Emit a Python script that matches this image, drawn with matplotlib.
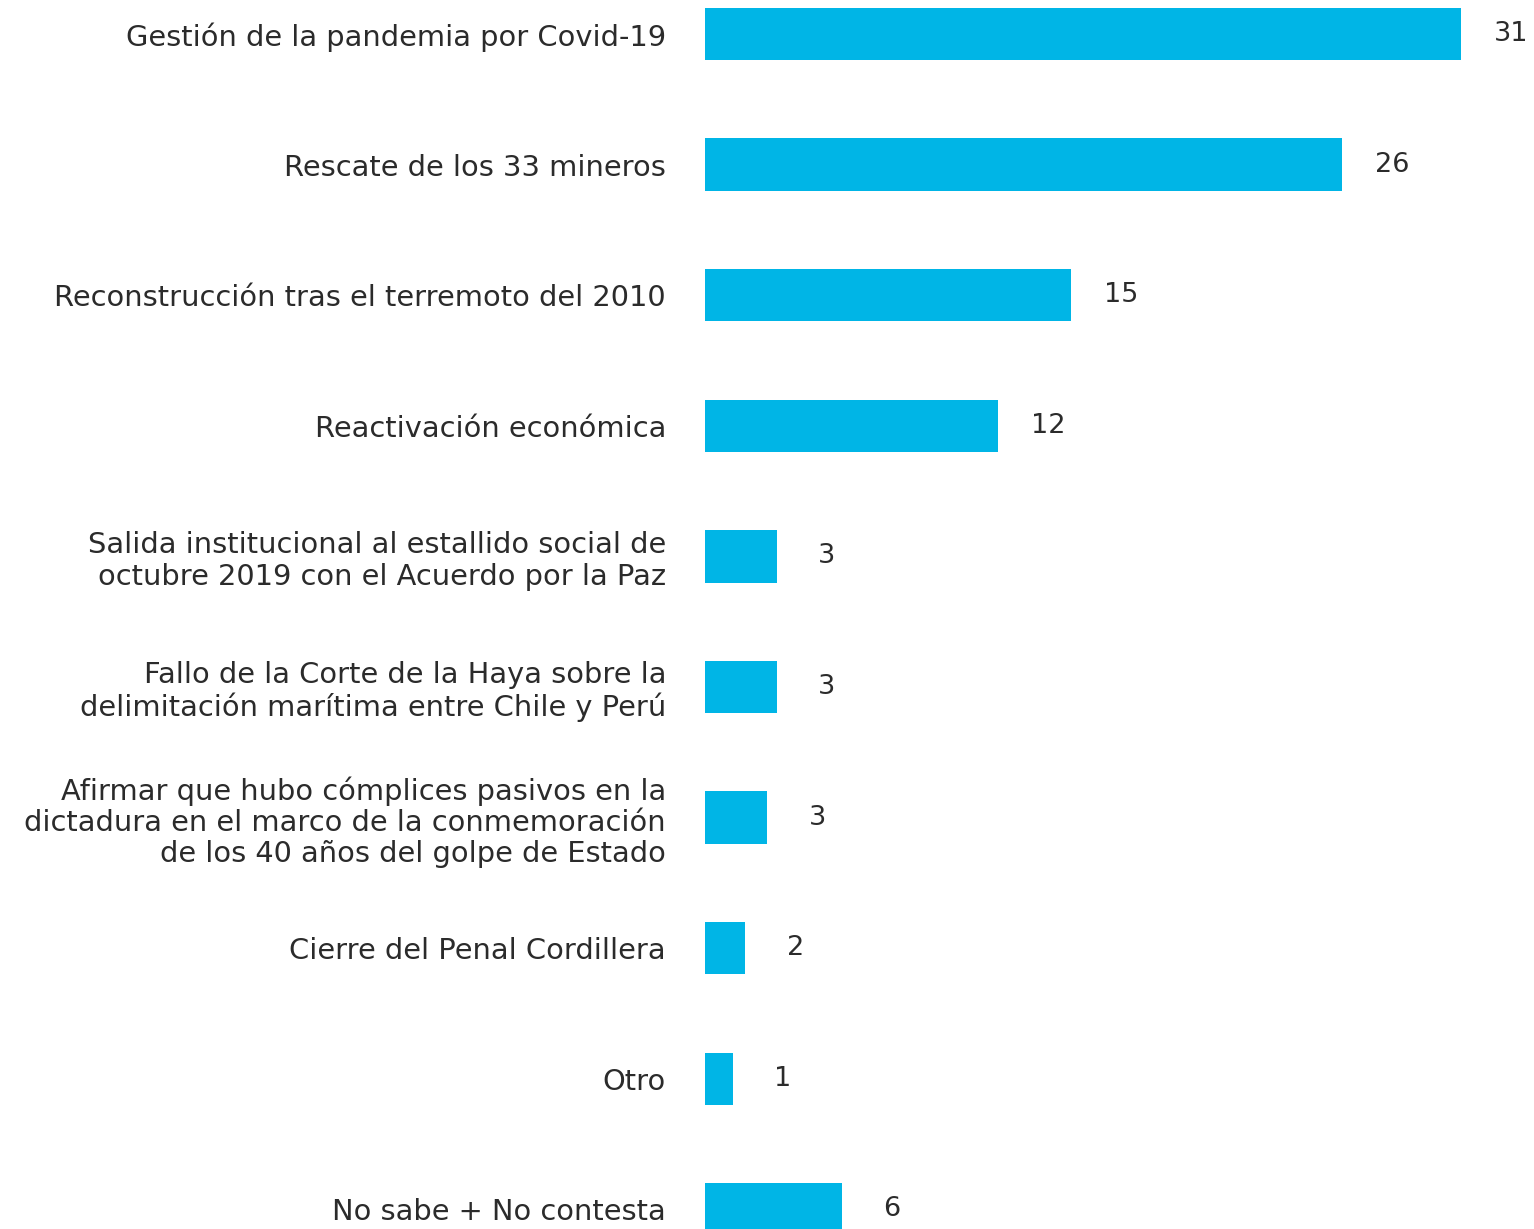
import matplotlib
matplotlib.use("Agg")
import matplotlib.pyplot as plt

categories = [
    "Gestión de la pandemia por Covid-19",
    "Rescate de los 33 mineros",
    "Reconstrucción tras el terremoto del 2010",
    "Reactivación económica",
    "Salida institucional al estallido social de\noctubre 2019 con el Acuerdo por la Paz",
    "Fallo de la Corte de la Haya sobre la\ndelimitación marítima entre Chile y Perú",
    "Afirmar que hubo cómplices pasivos en la\ndictadura en el marco de la conmemoración\nde los 40 años del golpe de Estado",
    "Cierre del Penal Cordillera",
    "Otro",
    "No sabe + No contesta",
]
values = [31.0, 26.1, 15.0, 12.0, 2.95, 2.95, 2.55, 1.65, 1.15, 5.6]
value_labels = ["31", "26", "15", "12", "3", "3", "3", "2", "1", "6"]

BAR_COLOR = "#00B5E6"
TEXT_COLOR = "#2b2b2b"
FONT = ["DejaVu Sans"]

W, H = 1534, 1229
fig = plt.figure(figsize=(W / 100, H / 100), dpi=100)
left_px = 705
ax = fig.add_axes([left_px / W, 0, 1 - left_px / W, 1])

px_per_unit = 24.4
ax.set_xlim(0, (W - left_px) / px_per_unit)
step = 130.6
y0 = 34
ax.set_ylim((H - y0) / step, -y0 / step)

ypos = list(range(len(categories)))
ax.barh(ypos, values, height=0.40, color=BAR_COLOR, edgecolor="none")

offset = 50 / px_per_unit
for y, v, lab in zip(ypos, values, value_labels):
    ax.text(v + offset, y, lab, ha="center", va="center", fontsize=19.5,
            color=TEXT_COLOR, family=FONT)

ax.set_yticks(ypos)
ax.set_yticklabels(categories, fontsize=20.8, color=TEXT_COLOR, family=FONT,
                   linespacing=1.15)
ax.tick_params(axis="y", length=0, pad=28)
ax.set_xticks([])
for s in ax.spines.values():
    s.set_visible(False)

fig.savefig("out.png", dpi=100)
